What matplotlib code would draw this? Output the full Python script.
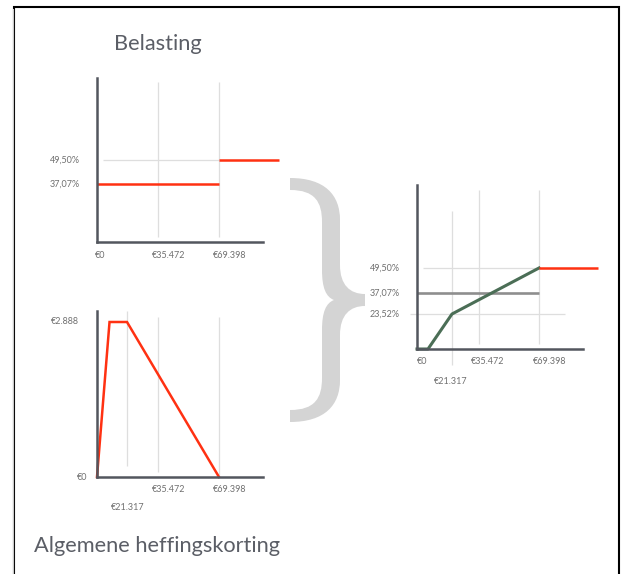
import numpy as np
import matplotlib
matplotlib.use("Agg")
import matplotlib.pyplot as plt
from matplotlib.transforms import offset_copy, blended_transform_factory
from matplotlib.path import Path
from matplotlib.patches import PathPatch

# ---------------- data ----------------
income_ticks = [0, 21317, 35472, 69398]
income_labels = ["€0", "€21.317", "€35.472", "€69.398"]

# Belasting (tax brackets)
bracket_start = [0, 69398]
bracket_end = [69398, 103000]
bracket_rate = [37.07, 49.50]
rate_labels_tax = ["37,07%", "49,50%"]

# Algemene heffingskorting
ahk_x = [0, 8900, 21317, 69398]
ahk_y = [0, 2888, 2888, 0]
ahk_ticks = [0, 2888]
ahk_labels = ["€0", "€2.888"]

# Combined marginal rate
comb_x = [0, 6700, 21317, 69398]
comb_y = [0, 0, 23.52, 49.50]
top_x = [69398, 103000]
top_y = [49.50, 49.50]
base_rate = 37.07
comb_ticks = [23.52, 37.07, 49.50]
comb_labels = ["23,52%", "37,07%", "49,50%"]

# ---------------- style ----------------
W, H = 625, 574
FONT = "Lato"
RED = "#ff3112"
GREEN = "#4b6e56"
GREY_LINE = "#8e8e8e"
GRID = "#dedede"
SPINE = "#53565e"
TXT = "#707070"
TITLE = "#5b5e66"

fig = plt.figure(figsize=(W / 100, H / 100), dpi=100)
fig.patch.set_facecolor("white")

overlay = fig.add_axes([0, 0, 1, 1])
overlay.set_xlim(0, W)
overlay.set_ylim(H, 0)
overlay.axis("off")


def pw(a, b):
    a = np.asarray(a, float)
    b = np.asarray(b, float)

    def f(v):
        v = np.asarray(v, float)
        out = np.interp(v, a, b)
        out = np.where(v < a[0], b[0] + (v - a[0]) * (b[1] - b[0]) / (a[1] - a[0]), out)
        out = np.where(v > a[-1], b[-1] + (v - a[-1]) * (b[-1] - b[-2]) / (a[-1] - a[-2]), out)
        return out
    return f


def make_axes(px_left, px_top, px_right, px_bottom, xv, xp, yv, yp_img):
    ax = fig.add_axes([px_left / W, 1 - px_bottom / H,
                       (px_right - px_left) / W, (px_bottom - px_top) / H])
    ax.set_facecolor("none")
    yp = [H - p for p in yp_img]
    fx, ix = pw(xv, xp), pw(xp, xv)
    fy, iy = pw(yv, yp), pw(yp, yv)
    ax.set_xscale("function", functions=(fx, ix))
    ax.set_yscale("function", functions=(fy, iy))
    X = lambda p: float(ix(p))
    Y = lambda p: float(iy(H - p))
    ax.set_xlim(X(px_left), X(px_right))
    ax.set_ylim(Y(px_bottom), Y(px_top))
    ax.set_xticks([])
    ax.set_yticks([])
    for s in ["top", "right"]:
        ax.spines[s].set_visible(False)
    for s in ["left", "bottom"]:
        ax.spines[s].set_color(SPINE)
        ax.spines[s].set_linewidth(1.8)
        ax.spines[s].set_capstyle("projecting")
        ax.spines[s].set_zorder(5)
    return ax, X, Y


def xlabel(ax, x, label, py, dx=-6, ha="left"):
    tr = offset_copy(blended_transform_factory(ax.transData, overlay.transData),
                     fig=fig, x=dx, y=0, units="dots")
    ax.text(x, py, label, transform=tr, ha=ha, va="center", fontsize=6.5,
            family=FONT, color=TXT, clip_on=False)


def ylabel(ax, y, label, px_right):
    tr = blended_transform_factory(overlay.transData, ax.transData)
    ax.text(px_right, y, label, transform=tr, ha="right", va="center", fontsize=6.5,
            family=FONT, color=TXT, clip_on=False)


# ---------------- Belasting ----------------
ax1, X1, Y1 = make_axes(97, 78, 281, 242,
                        [0, 35472, 69398], [97, 158, 219],
                        [0, 37.07, 49.50], [242, 184, 160])
ax1.spines["bottom"].set_bounds(0, X1(263))
ax1.vlines(income_ticks[2:], Y1(237), Y1(82), color=GRID, lw=0.9, zorder=1)
ax1.hlines(bracket_rate[1], X1(103), X1(258), color=GRID, lw=0.9, zorder=1)
for xs, xe, r in zip(bracket_start, bracket_end, bracket_rate):
    ax1.plot([xs, xe], [r, r], color=RED, lw=1.8, solid_capstyle="butt", zorder=3)
for v, l in zip(bracket_rate, rate_labels_tax):
    ylabel(ax1, v, l, 80)
xlabel(ax1, income_ticks[0], income_labels[0], 255, dx=-2)
xlabel(ax1, income_ticks[2], income_labels[2], 255)
xlabel(ax1, income_ticks[3], income_labels[3], 255)

# ---------------- Algemene heffingskorting ----------------
ax2, X2, Y2 = make_axes(97, 311, 264, 477,
                        [0, 21317, 35472, 69398], [97, 127, 158, 219],
                        [0, 2888], [477, 322])
ax2.spines["bottom"].set_bounds(0, X2(263))
ax2.vlines(income_ticks[1], Y2(466), Y2(311), color=GRID, lw=0.9, zorder=1)
ax2.vlines(income_ticks[2], Y2(472), Y2(317), color=GRID, lw=0.9, zorder=1)
ax2.vlines(income_ticks[3], Y2(475), Y2(317), color=GRID, lw=0.9, zorder=1)
ax2.plot(ahk_x, ahk_y, color=RED, lw=1.8, solid_joinstyle="miter", zorder=3, clip_on=False)
ylabel(ax2, ahk_ticks[1], ahk_labels[1], 79)
ylabel(ax2, ahk_ticks[0], ahk_labels[0], 87)
xlabel(ax2, income_ticks[2], income_labels[2], 490)
xlabel(ax2, income_ticks[3], income_labels[3], 490)
xlabel(ax2, income_ticks[1], income_labels[1], 508, dx=1, ha="center")

# ---------------- Combined ----------------
ax3, X3, Y3 = make_axes(417, 185, 601, 349,
                        [0, 21317, 35472, 69398], [417, 452, 479, 539],
                        [0, 23.52, 37.07, 49.50], [349, 314, 293, 268])
ax3.spines["bottom"].set_bounds(0, X3(583))
ax3.vlines(income_ticks[1], Y3(365), Y3(211), color=GRID, lw=0.9, zorder=1, clip_on=False)
ax3.vlines(income_ticks[2:], Y3(344), Y3(190), color=GRID, lw=0.9, zorder=1)
ax3.hlines(comb_ticks[2], X3(423), X3(580), color=GRID, lw=0.9, zorder=1)
ax3.hlines(comb_ticks[0], X3(410), X3(565), color=GRID, lw=0.9, zorder=1, clip_on=False)
ax3.plot([0, comb_x[-1]], [base_rate, base_rate], color=GREY_LINE, lw=1.9,
         solid_capstyle="butt", zorder=2)
ax3.plot(comb_x, comb_y, color=GREEN, lw=2.2, zorder=3, clip_on=False)
ax3.plot(top_x, top_y, color=RED, lw=1.8, solid_capstyle="butt", zorder=3)
for v, l in zip(comb_ticks, comb_labels):
    ylabel(ax3, v, l, 400)
xlabel(ax3, income_ticks[0], income_labels[0], 362, dx=0)
xlabel(ax3, income_ticks[2], income_labels[2], 362, dx=-8)
xlabel(ax3, income_ticks[3], income_labels[3], 362, dx=-6)
xlabel(ax3, income_ticks[1], income_labels[1], 382, dx=-1, ha="center")

# ---------------- brace ----------------
verts = [
    (290, 178), (325, 178), (340, 195), (340, 220),
    (340, 265),
    (340, 285), (350, 294), (365, 294),
    (365, 306),
    (350, 306), (340, 315), (340, 335),
    (340, 380),
    (340, 405), (325, 422), (290, 422),
    (290, 410),
    (315, 410), (322, 398), (322, 378),
    (322, 330),
    (322, 312), (326, 303), (334, 300),
    (326, 297), (322, 288), (322, 270),
    (322, 222),
    (322, 202), (315, 190), (290, 190),
    (290, 178),
]
codes = [Path.MOVETO, Path.CURVE4, Path.CURVE4, Path.CURVE4,
         Path.LINETO,
         Path.CURVE4, Path.CURVE4, Path.CURVE4,
         Path.LINETO,
         Path.CURVE4, Path.CURVE4, Path.CURVE4,
         Path.LINETO,
         Path.CURVE4, Path.CURVE4, Path.CURVE4,
         Path.LINETO,
         Path.CURVE4, Path.CURVE4, Path.CURVE4,
         Path.LINETO,
         Path.CURVE4, Path.CURVE4, Path.CURVE4,
         Path.CURVE4, Path.CURVE4, Path.CURVE4,
         Path.LINETO,
         Path.CURVE4, Path.CURVE4, Path.CURVE4,
         Path.CLOSEPOLY]
overlay.add_patch(PathPatch(Path(verts, codes), facecolor="#d4d4d4", edgecolor="none"))

# ---------------- frame & titles ----------------
overlay.plot([14, 14, 619, 619], [H + 5, 7, 7, H + 5], color="black", lw=1.5,
             solid_joinstyle="miter", clip_on=False)
overlay.plot([12.5, 12.5], [9, H + 5], color="#c8c8c8", lw=0.8, clip_on=False)

overlay.text(114, 44, "Belasting", ha="left", va="center", fontsize=15.7,
             family=FONT, weight="normal", color=TITLE)
overlay.text(34, 546, "Algemene heffingskorting", ha="left", va="center", fontsize=15.7,
             family=FONT, weight="normal", color=TITLE)

fig.savefig("out.png", dpi=100, facecolor="white")
